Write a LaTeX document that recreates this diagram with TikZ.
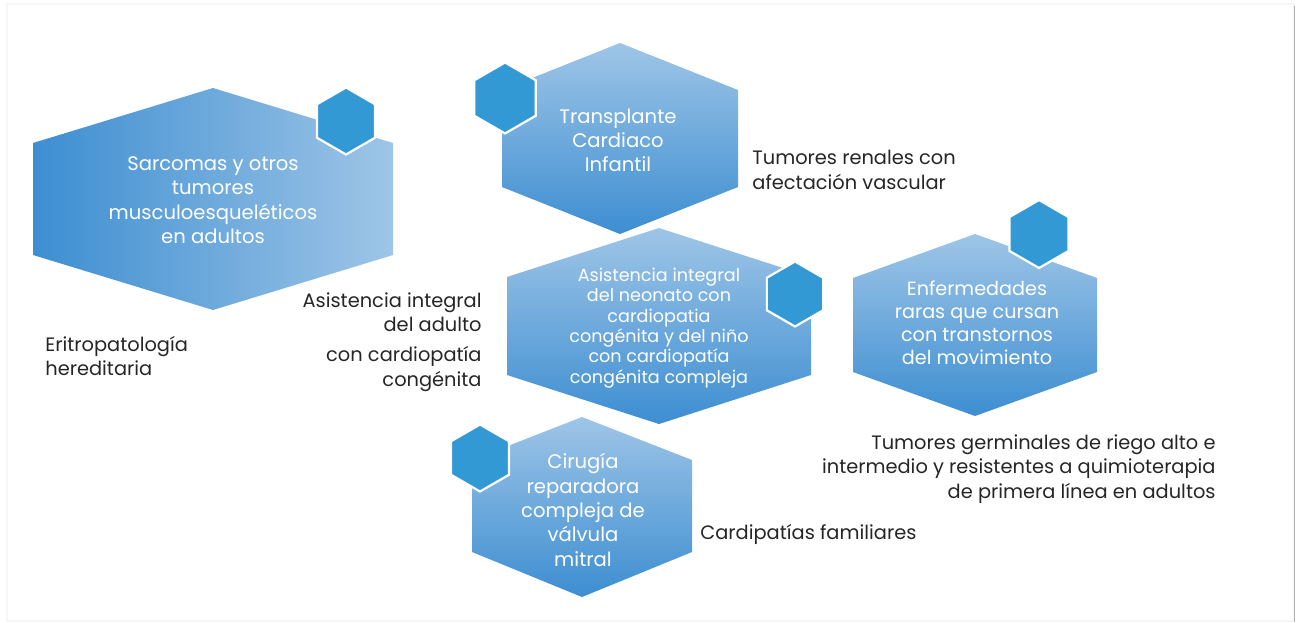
\documentclass[tikz,border=0pt]{standalone}
\usepackage{fontspec}
\setmainfont{Poppins}
\definecolor{hexdark}{HTML}{3D8ED1}
\definecolor{hexlight}{HTML}{9EC5E7}
\definecolor{smallblue}{HTML}{3399D5}
\definecolor{txtdark}{HTML}{262626}
\newcommand{\bighexpath}[7]{\shade[#1] (#2,#3) -- (#2+#7,#4) -- (#2+#7,#5) -- (#2,#6) -- (#2-#7,#5) -- (#2-#7,#4) -- cycle;}
\newcommand{\smallhexpath}[3]{\draw[smallhex] (#1,#2) +(90:#3) -- +(150:#3) -- +(210:#3) -- +(270:#3) -- +(330:#3) -- +(30:#3) -- cycle;}
\tikzset{
  vgrad/.style={top color=hexlight, bottom color=hexdark},
  hgrad/.style={left color=hexdark, right color=hexlight},
  smallhex/.style={fill=smallblue, draw=white, line width=1.1pt, line join=miter},
  intxt/.style={text=white, align=center, inner sep=0pt},
  outtxt/.style={text=txtdark, inner sep=0pt, font=\fontsize{9.7}{12.2}\selectfont},
}
\begin{document}
\begin{tikzpicture}[x=0.5pt, y=-0.5pt]
\useasboundingbox (0,0) rectangle (1296,622);
\fill[white] (0,0) rectangle (1296,622);
\draw[gray!7, line width=0.6pt] (7,4) rectangle (1294,621);
\draw[gray!60, line width=0.8pt] (1294.5,6) -- (1294.5,622);

% big hexagons
\bighexpath{hgrad}{213}{88}{143}{255}{310}{180}
\bighexpath{vgrad}{620}{43}{90}{187}{234}{118}
\bighexpath{vgrad}{659}{228}{277}{375}{424}{152}
\bighexpath{vgrad}{975}{234}{278}{372}{416}{122}
\bighexpath{vgrad}{582}{417}{460}{552}{597}{110}

% small hexagons
\smallhexpath{346}{121}{33.5}
\smallhexpath{505}{98}{35.5}
\smallhexpath{795}{294}{32.5}
\smallhexpath{1039}{234}{34}
\smallhexpath{480}{458}{33.5}

% texts inside
\node[intxt, font=\fontsize{9.8}{12.2}\selectfont] (h1) at (213,200) {Sarcomas y otros\\tumores\\musculoesqueléticos\\en adultos};
\node[intxt, font=\fontsize{9.8}{12}\selectfont] (h2) at (618,140) {Transplante\\Cardiaco\\Infantil};
\node[intxt, font=\fontsize{8.8}{10.15}\selectfont] (h3) at (659,328) {Asistencia integral\\del neonato con\\cardiopatia\\congénita y del niño\\con cardiopatía\\congénita compleja};
\node[intxt, font=\fontsize{9.6}{11.5}\selectfont] (h4) at (977,323) {Enfermedades\\raras que cursan\\con transtornos\\del movimiento};
\node[intxt, font=\fontsize{9.8}{12.2}\selectfont] (h5) at (583,510) {Cirugía\\reparadora\\compleja de\\válvula\\mitral};

% texts outside
\node[outtxt, align=left, anchor=west] (o1) at (752,170) {Tumores renales con\\afectación vascular};
\node[outtxt, align=right, anchor=east] (o2) at (482,312) {Asistencia integral\\del adulto};
\node[outtxt, align=right, anchor=east] (o3) at (482,369) {con cardiopatía\\congénita};
\node[outtxt, align=left, anchor=west] (o4) at (45,356) {Eritropatología\\hereditaria};
\node[outtxt, align=right, anchor=east] (o5) at (1216,469) {Tumores germinales de riego alto e\\intermedio y resistentes a quimioterapia\\de primera línea en adultos};
\node[outtxt, anchor=west] (o6) at (700,534) {Cardipatías familiares};
\end{tikzpicture}
\end{document}
